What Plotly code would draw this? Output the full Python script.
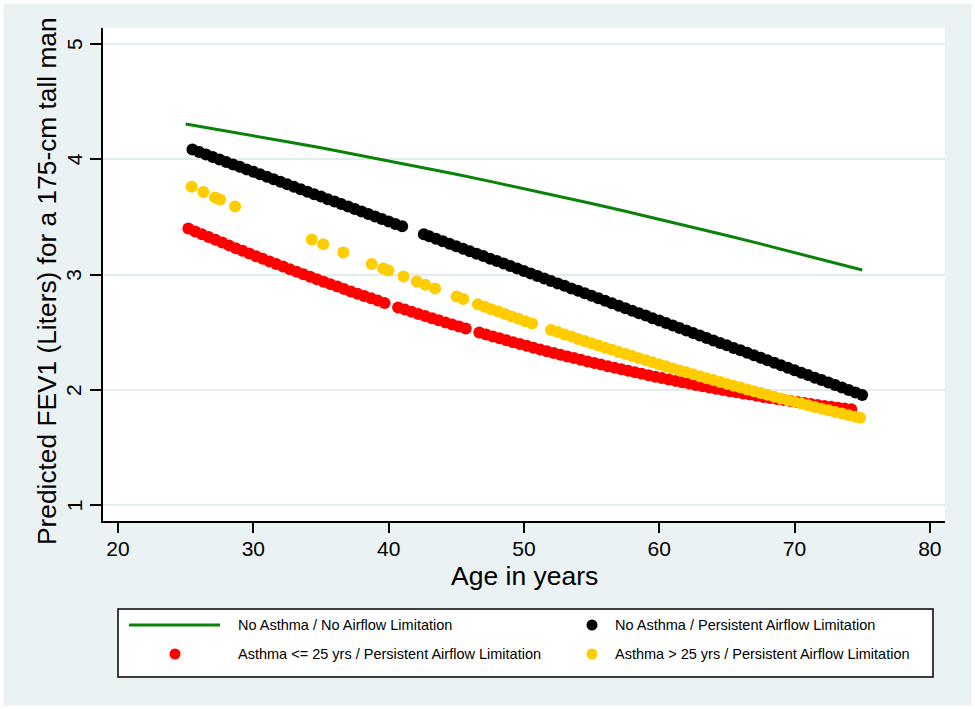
import plotly.graph_objects as go

# ---------------- data ----------------
SERIES_NAMES = [
    "No Asthma / No Airflow Limitation",
    "No Asthma / Persistent Airflow Limitation",
    "Asthma <= 25 yrs / Persistent Airflow Limitation",
    "Asthma > 25 yrs / Persistent Airflow Limitation",
]

AGE_GREEN = [25, 27.5, 30, 32.5, 35, 37.5, 40, 42.5, 45, 47.5, 50,
             52.5, 55, 57.5, 60, 62.5, 65, 67.5, 70, 72.5, 75]
FEV_GREEN = [4.306, 4.257, 4.206, 4.153, 4.100, 4.044, 3.988, 3.930, 3.870, 3.809, 3.746,
             3.682, 3.617, 3.550, 3.481, 3.411, 3.340, 3.267, 3.193, 3.117, 3.040]

AGE_BLACK = [25.5, 26.0, 26.5, 27.0, 27.5, 28.0, 28.5, 29.0, 29.5, 30.0, 30.5, 31.0,
             31.5, 32.0, 32.5, 33.0, 33.5, 34.0, 34.5, 35.0, 35.5, 36.0, 36.5, 37.0,
             37.5, 38.0, 38.5, 39.0, 39.5, 40.0, 40.5, 41.0,
             42.6, 43.0, 43.5, 44.0, 44.5, 45.0, 45.5, 46.0, 46.5, 47.0, 47.5, 48.0,
             48.5, 49.0, 49.5, 50.0, 50.5, 51.0, 51.5, 52.0, 52.5, 53.0, 53.5, 54.0,
             54.5, 55.0, 55.5, 56.0, 56.5, 57.0, 57.5, 58.0, 58.5, 59.0, 59.5, 60.0,
             60.5, 61.0, 61.5, 62.0, 62.5, 63.0, 63.5, 64.0, 64.5, 65.0, 65.5, 66.0,
             66.5, 67.0, 67.5, 68.0, 68.5, 69.0, 69.5, 70.0, 70.5, 71.0, 71.5, 72.0,
             72.5, 73.0, 73.5, 74.0, 74.5, 75.0]
FEV_BLACK = [4.085, 4.064, 4.042, 4.021, 3.999, 3.978, 3.956, 3.935, 3.913, 3.892, 3.870, 3.849,
             3.827, 3.806, 3.784, 3.763, 3.741, 3.720, 3.698, 3.677, 3.655, 3.634, 3.612, 3.591,
             3.569, 3.548, 3.526, 3.505, 3.483, 3.462, 3.440, 3.419,
             3.350, 3.333, 3.311, 3.290, 3.268, 3.247, 3.225, 3.204, 3.182, 3.161, 3.139, 3.118,
             3.096, 3.075, 3.053, 3.032, 3.010, 2.989, 2.967, 2.946, 2.924, 2.903, 2.881, 2.860,
             2.838, 2.817, 2.795, 2.774, 2.752, 2.731, 2.709, 2.688, 2.666, 2.645, 2.623, 2.602,
             2.580, 2.559, 2.537, 2.516, 2.494, 2.473, 2.451, 2.430, 2.408, 2.387, 2.365, 2.344,
             2.322, 2.301, 2.279, 2.258, 2.236, 2.215, 2.193, 2.172, 2.150, 2.129, 2.107, 2.086,
             2.064, 2.043, 2.021, 2.000, 1.978, 1.957]

AGE_RED = [25.2, 25.7, 26.2, 26.7, 27.2, 27.7, 28.2, 28.7, 29.2, 29.7, 30.2, 30.7,
           31.2, 31.7, 32.2, 32.7, 33.2, 33.7, 34.2, 34.7, 35.2, 35.7, 36.2, 36.7,
           37.2, 37.7, 38.2, 38.7, 39.2, 39.7, 40.7, 41.2, 41.7, 42.2, 42.7, 43.2,
           43.7, 44.2, 44.7, 45.2, 45.7, 46.7, 47.2, 47.7, 48.2, 48.7, 49.2, 49.7,
           50.2, 50.7, 51.2, 51.7, 52.2, 52.7, 53.2, 53.7, 54.2, 54.7, 55.2, 55.7,
           56.2, 56.7, 57.2, 57.7, 58.2, 58.7, 59.2, 59.7, 60.2, 60.7, 61.2, 61.7,
           62.2, 62.7, 63.2, 63.7, 64.2, 64.7, 65.2, 65.7, 66.2, 66.7, 67.2, 67.7,
           68.2, 68.7, 69.2, 69.7, 70.2, 70.7, 71.2, 71.7, 72.2, 72.7, 73.2, 73.7, 74.2]
FEV_RED = [3.400, 3.375, 3.351, 3.326, 3.302, 3.278, 3.254, 3.230, 3.207, 3.184, 3.160, 3.137,
           3.115, 3.092, 3.070, 3.047, 3.025, 3.003, 2.982, 2.960, 2.939, 2.918, 2.897, 2.876,
           2.855, 2.835, 2.815, 2.795, 2.775, 2.755, 2.716, 2.697, 2.678, 2.659, 2.641, 2.622,
           2.604, 2.586, 2.568, 2.550, 2.533, 2.498, 2.481, 2.464, 2.448, 2.431, 2.415, 2.399,
           2.383, 2.367, 2.352, 2.336, 2.321, 2.306, 2.291, 2.277, 2.262, 2.248, 2.234, 2.220,
           2.206, 2.193, 2.179, 2.166, 2.153, 2.140, 2.128, 2.115, 2.103, 2.091, 2.079, 2.067,
           2.056, 2.044, 2.033, 2.022, 2.011, 2.000, 1.990, 1.980, 1.970, 1.960, 1.950, 1.940,
           1.931, 1.922, 1.913, 1.904, 1.895, 1.887, 1.878, 1.870, 1.862, 1.855, 1.847, 1.840, 1.832]

AGE_YELLOW = [25.45, 26.31, 27.17, 27.54, 28.65,
              34.32, 35.17, 36.65,
              38.75, 39.6, 39.98, 41.1, 42.08, 42.7, 43.43, 45.03, 45.52,
              46.6, 47.1, 47.6, 48.1, 48.6, 49.1, 49.6, 50.1, 50.6,
              52.0, 52.5, 53.0, 53.5, 54.0, 54.5, 55.0, 55.5, 56.0, 56.5, 57.0, 57.5,
              58.0, 58.5, 59.0, 59.5, 60.0, 60.5, 61.0, 61.5, 62.0, 62.5, 63.0, 63.5,
              64.0, 64.5, 65.0, 65.5, 66.0, 66.5, 67.0, 67.5, 68.0, 68.5, 69.0, 69.5,
              70.0, 70.5, 71.0, 71.5, 72.0, 72.5, 73.0, 73.5, 74.0, 74.5, 74.84]
FEV_YELLOW = [3.762, 3.716, 3.670, 3.651, 3.592,
              3.305, 3.264, 3.192,
              3.093, 3.053, 3.036, 2.985, 2.940, 2.913, 2.880, 2.810, 2.789,
              2.743, 2.722, 2.701, 2.680, 2.659, 2.638, 2.618, 2.597, 2.577,
              2.521, 2.502, 2.482, 2.463, 2.443, 2.424, 2.405, 2.386, 2.367, 2.349, 2.330, 2.312,
              2.294, 2.276, 2.258, 2.240, 2.222, 2.205, 2.187, 2.170, 2.153, 2.136, 2.119, 2.102,
              2.086, 2.069, 2.053, 2.037, 2.021, 2.005, 1.989, 1.973, 1.958, 1.942, 1.927, 1.912,
              1.897, 1.882, 1.868, 1.853, 1.838, 1.824, 1.810, 1.796, 1.782, 1.768, 1.759]

X_TICKS = [20, 30, 40, 50, 60, 70, 80]
Y_TICKS = [1, 2, 3, 4, 5]

X_TITLE = "Age in years"
Y_TITLE = "Predicted FEV1 (Liters) for a 175-cm tall man"

# ---------------- styling ----------------
GREEN = "#0a820a"
BLACK = "#000000"
RED = "#ff0000"
GOLD = "#ffcc00"
BG = "#eaf2f3"
GRID = "#e3eced"
FONT = "Liberation Sans, Arial, sans-serif"

W, H = 975, 709
ML, MR, MT, MB = 103, 30, 28, 188
PW, PH = W - ML - MR, H - MT - MB


def px(xp):
    return (xp - ML) / PW


def py(yp):
    return (H - MB - yp) / PH


fig = go.Figure()
fig.add_trace(go.Scatter(x=AGE_GREEN, y=FEV_GREEN, mode="lines", name=SERIES_NAMES[0],
                         line=dict(color=GREEN, width=3), showlegend=False))
fig.add_trace(go.Scatter(x=AGE_BLACK, y=FEV_BLACK, mode="markers", name=SERIES_NAMES[1],
                         marker=dict(color=BLACK, size=12, line=dict(width=0)), showlegend=False))
fig.add_trace(go.Scatter(x=AGE_RED, y=FEV_RED, mode="markers", name=SERIES_NAMES[2],
                         marker=dict(color=RED, size=12, line=dict(width=0)), showlegend=False))
fig.add_trace(go.Scatter(x=AGE_YELLOW, y=FEV_YELLOW, mode="markers", name=SERIES_NAMES[3],
                         marker=dict(color=GOLD, size=12, line=dict(width=0)), showlegend=False))

shapes = []
annotations = []

# outer white frame
shapes.append(dict(type="rect", xref="paper", yref="paper",
                   x0=px(0), x1=px(W), y0=py(H), y1=py(0),
                   line=dict(color="white", width=7), fillcolor="rgba(0,0,0,0)", layer="above"))

# legend box
shapes.append(dict(type="rect", xref="paper", yref="paper",
                   x0=px(118), x1=px(933), y0=py(677), y1=py(609),
                   line=dict(color="black", width=1.5), fillcolor="white", layer="below"))
row1, row2 = 625, 654
col1_sym, col2_sym = 175, 592
col1_txt, col2_txt = 236, 613
shapes.append(dict(type="line", xref="paper", yref="paper",
                   x0=px(129), x1=px(220), y0=py(row1), y1=py(row1),
                   line=dict(color=GREEN, width=3)))
r = 5.5
for (cx, cy, col) in [(col2_sym, row1, BLACK), (col1_sym, row2, RED), (col2_sym, row2, GOLD)]:
    shapes.append(dict(type="circle", xref="paper", yref="paper",
                       x0=px(cx - r), x1=px(cx + r), y0=py(cy + r), y1=py(cy - r),
                       fillcolor=col, line=dict(width=0)))
for (tx, ty, name) in [(col1_txt, row1, SERIES_NAMES[0]), (col2_txt, row1, SERIES_NAMES[1]),
                       (col1_txt, row2, SERIES_NAMES[2]), (col2_txt, row2, SERIES_NAMES[3])]:
    annotations.append(dict(xref="paper", yref="paper", x=px(tx), y=py(ty), text=name,
                            showarrow=False, xanchor="left", yanchor="middle",
                            font=dict(family=FONT, size=14.5, color="black")))

# rotated y tick labels (placed at the tick values of the y axis)
for v in Y_TICKS:
    annotations.append(dict(xref="paper", yref="y", x=px(74), y=v, text=str(v),
                            showarrow=False, xanchor="center", yanchor="middle", textangle=-90,
                            font=dict(family=FONT, size=21, color="black")))

# axis titles
annotations.append(dict(xref="paper", yref="paper", x=px(524), y=py(576), text=X_TITLE,
                        showarrow=False, xanchor="center", yanchor="middle",
                        font=dict(family=FONT, size=26.5, color="black")))
annotations.append(dict(xref="paper", yref="paper", x=px(47), y=py(281), text=Y_TITLE,
                        showarrow=False, xanchor="center", yanchor="middle", textangle=-90,
                        font=dict(family=FONT, size=26.3, color="black")))

fig.update_layout(
    width=W, height=H,
    margin=dict(l=ML, r=MR, t=MT, b=MB, pad=0),
    paper_bgcolor=BG, plot_bgcolor="white",
    font=dict(family=FONT, color="black"),
    shapes=shapes, annotations=annotations,
    showlegend=False,
)
fig.update_xaxes(range=[18.89, 81.12], tickvals=X_TICKS, ticktext=[str(v) for v in X_TICKS],
                 showgrid=False, zeroline=False, showline=True, linecolor="black", linewidth=2,
                 ticks="outside", ticklen=10, tickwidth=1.5, tickcolor="black",
                 tickfont=dict(family=FONT, size=21, color="black"), ticklabelstandoff=-2)
fig.update_yaxes(range=[0.864, 5.139], tickvals=Y_TICKS, showticklabels=False,
                 showgrid=True, gridcolor=GRID, gridwidth=2, zeroline=False,
                 showline=True, linecolor="black", linewidth=2,
                 ticks="outside", ticklen=11, tickwidth=1.5, tickcolor="black")

fig.write_html("out.html", config={"displayModeBar": False},
               post_script="document.body.style.margin='0';")
